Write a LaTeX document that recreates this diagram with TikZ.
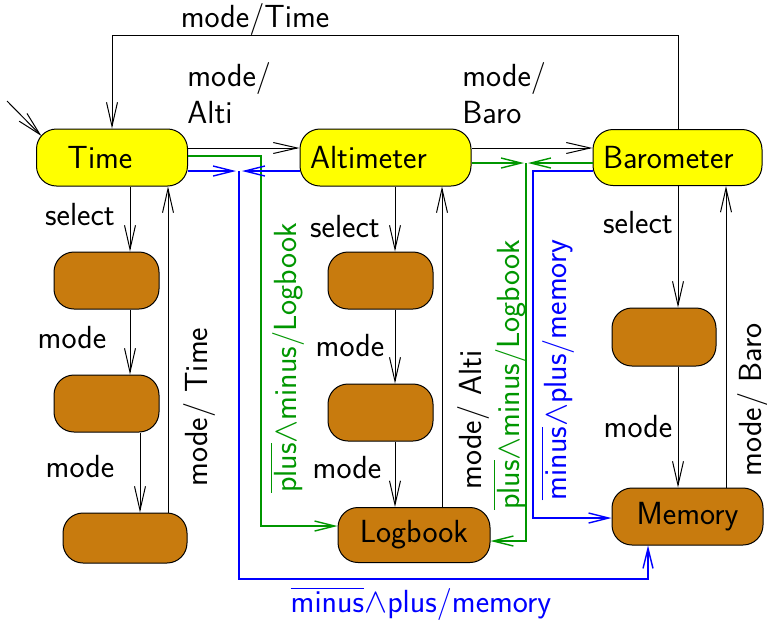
\documentclass[tikz,border=0pt]{standalone}
\usepackage{fontspec}
\usetikzlibrary{arrows.meta,calc}
\definecolor{boxyellow}{RGB}{255,255,0}
\definecolor{boxbrown}{RGB}{200,123,14}
\definecolor{lgreen}{RGB}{0,150,0}
\definecolor{lblue}{RGB}{0,0,255}
\begin{document}
\begin{tikzpicture}[x=0.5pt,y=-0.5pt,
  font=\sffamily\fontsize{16}{18.5}\selectfont,
  state/.style={draw=black, line width=0.5pt, rounded corners=10pt, inner sep=0pt, minimum height=28.5pt},
  yel/.style={state, fill=boxyellow, align=left},
  brn/.style={state, fill=boxbrown},
  arr/.style={line width=0.5pt, -{Straight Barb[length=12pt,width=5.5pt]}},
  garr/.style={draw=lgreen, line width=1.2pt, -{Straight Barb[length=10pt,width=5pt,line width=0.7pt]}},
  barr/.style={draw=lblue, line width=1.2pt, -{Straight Barb[length=10pt,width=5pt,line width=0.7pt]}},
  lbl/.style={inner sep=0pt},
  glbl/.style={inner sep=0pt, text=lgreen, rotate=90},
  blbl/.style={inner sep=0pt, text=lblue}
]
\useasboundingbox (0,0) rectangle (767,623);

% states
\node[yel, text width=75.5pt] (Time) at (112,157.5) {\hspace*{15.5pt}Time};
\node[yel, text width=85.5pt] (Alt) at (385.5,157.5) {\hspace*{5pt}Altimeter};
\node[yel, text width=84.5pt, minimum height=28pt] (Baro) at (677.5,157.5) {\hspace*{5pt}Barometer};

\node[brn, minimum width=52.5pt] (T1) at (106.5,280.5) {};
\node[brn, minimum width=52.5pt] (T2) at (106.5,403.5) {};
\node[brn, minimum width=62pt, minimum height=25pt] (T3) at (125,538) {};
\node[brn, minimum width=52.5pt] (A1) at (380.5,280.5) {};
\node[brn, minimum width=52.5pt] (A2) at (380.5,412.5) {};
\node[brn, minimum width=76pt, minimum height=27.5pt] (Log) at (414,535) {Logbook};
\node[brn, minimum width=52pt, minimum height=29pt] (B1) at (664,337) {};
\node[brn, minimum width=75.5pt] (Mem) at (687.5,516.5) {Memory};

% helper coordinates
\coordinate (x130) at (130,0);
\coordinate (x140) at (140,0);
\coordinate (x168) at (168,0);
\coordinate (x395) at (395,0);
\coordinate (x442) at (442,0);
\coordinate (x678) at (678,0);
\coordinate (x726) at (726,0);
\coordinate (y148) at (0,148);
\coordinate (topy) at (0,35);
\coordinate (init) at (7,101);

% black transitions
\draw[arr] (init) -- ($(Time.north west)+(5.5,7.5)$);
\draw[arr] (Time.south -| x130) -- (T1.north -| x130);
\draw[arr] (T1.south -| x130) -- (T2.north -| x130);
\draw[arr] (T2.south -| x140) -- (T3.north -| x140);
\draw[arr] (T3.north -| x168) -- (Time.south -| x168);

\draw[arr] (Alt.south -| x395) -- (A1.north -| x395);
\draw[arr] (A1.south -| x395) -- (A2.north -| x395);
\draw[arr] (A2.south -| x395) -- (Log.north -| x395);
\draw[arr] (Log.north -| x442) -- (Alt.south -| x442);

\draw[arr] (Baro.south -| x678) -- (B1.north -| x678);
\draw[arr] (B1.south -| x678) -- (Mem.north -| x678);
\draw[arr] (Mem.north -| x726) -- (Baro.south -| x726);

\draw[arr] (Time.east |- y148) -- (Alt.west |- y148);
\draw[arr] (Alt.east |- y148) -- (Baro.west |- y148);
\draw[arr] (Baro.north -| x678) -- (x678 |- topy) -- (Time.north |- topy) -- (Time.north);

% green transitions
\coordinate (gt) at (261,156);
\coordinate (gb) at (261,526);
\draw[garr] (Time.east |- gt) -- (gt) -- (gb) -- (Log.west |- gb);
\coordinate (gj) at (526,163);
\coordinate (gjl) at (524,163);
\coordinate (gjr) at (528,163);
\coordinate (gjb) at (526,541);
\draw[garr] (Alt.east |- gj) -- (gjl);
\draw[garr] (Baro.west |- gj) -- (gjr);
\draw[garr] (gj) -- (gjb) -- (Log.east |- gjb);

% blue transitions
\coordinate (bj) at (239,171);
\coordinate (bjl) at (236,171);
\coordinate (bjr) at (242,171);
\coordinate (bb) at (239,579);
\coordinate (bm) at (648,579);
\draw[barr] (Time.east |- bj) -- (bjl);
\draw[barr] (Alt.west |- bj) -- (bjr);
\draw[barr] (bj) -- (bb) -- (bm) -- (Mem.south -| bm);
\coordinate (bk) at (533,171);
\coordinate (bkb) at (533,518);
\draw[barr] (Baro.west |- bk) -- (bk) -- (bkb) -- (Mem.west |- bkb);

% labels
\node[lbl] (ltop) at (255,19) {mode/Time};
\node[lbl, align=left, anchor=west] (lalti) at (187,93) {mode/\\Alti};
\node[lbl, align=left, anchor=west] (lbaro) at (462,93) {mode/\\Baro};

\node[lbl] (ls1) at (80,215) {select};
\node[lbl] (lm1) at (72,338) {mode};
\node[lbl] (lm2) at (80,467) {mode};
\node[lbl, rotate=90] (lrt) at (199,407) {mode/ Time};

\node[lbl] (ls2) at (345,227) {select};
\node[lbl] (lm3) at (350,346) {mode};
\node[lbl] (lm4) at (347,468) {mode};
\node[lbl, rotate=90] (lra) at (473,420) {mode/ Alti};

\node[lbl] (ls3) at (638,223) {select};
\node[lbl] (lm5) at (638,427) {mode};
\node[lbl, rotate=90] (lrb) at (753,400) {mode/ Baro};

\node[glbl] (lg1) at (287,358) {$\overline{\mbox{plus}}{\wedge}$minus/Logbook};
\node[glbl] (lg2) at (510,375) {$\overline{\mbox{plus}}{\wedge}$minus/Logbook};
\node[blbl, rotate=90] (lb1) at (558,370) {$\overline{\mbox{minus}}{\wedge}$plus/memory};
\node[blbl] (lb2) at (421,604) {$\overline{\mbox{minus}}{\wedge}$plus/memory};
\end{tikzpicture}
\end{document}
